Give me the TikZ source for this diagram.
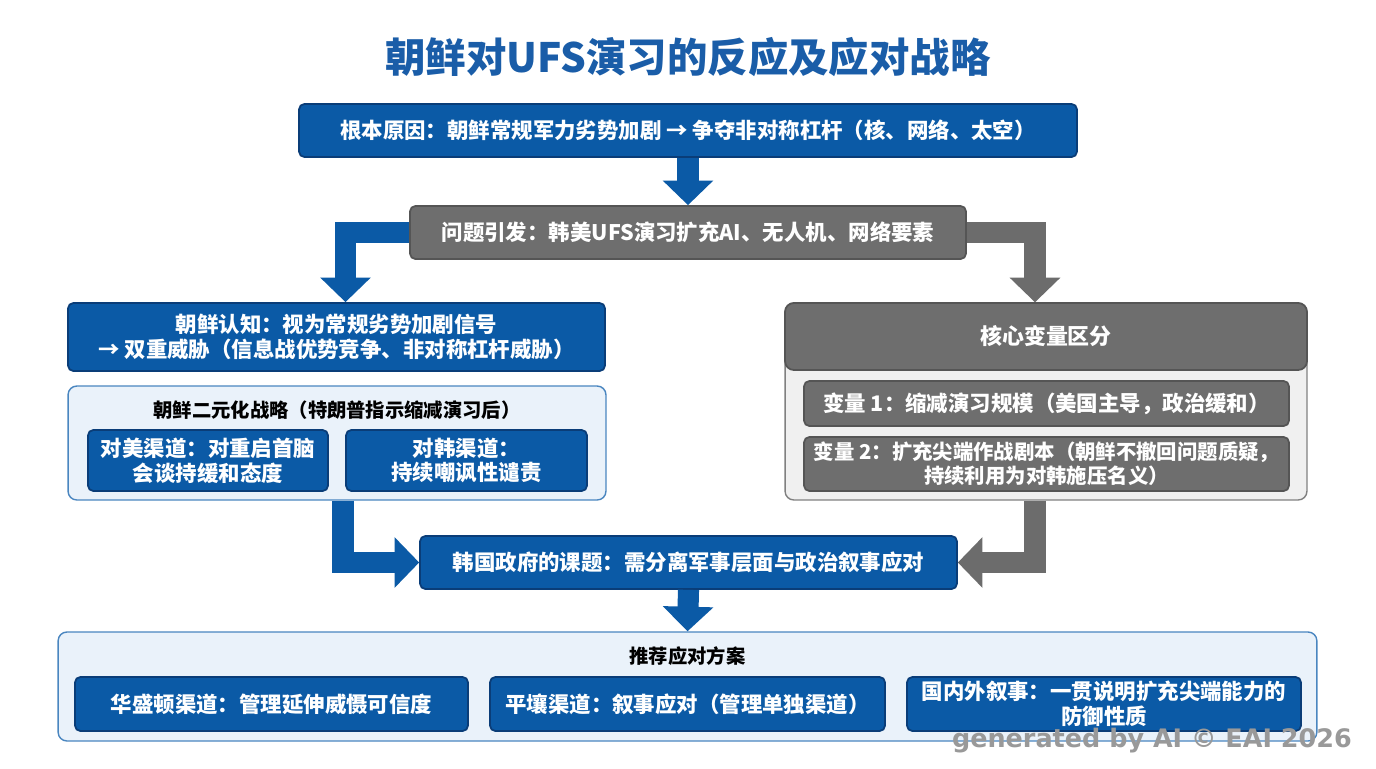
\documentclass[tikz,border=0pt]{standalone}
\usepackage{fontspec}
\setmainfont{Noto Sans CJK SC}
\newfontfamily\wm{DejaVu Sans}
\usetikzlibrary{arrows.meta,calc}
\definecolor{dblue}{HTML}{0B5AA6}
\definecolor{bblue}{HTML}{0A3D78}
\definecolor{lblue}{HTML}{EAF2FA}
\definecolor{pblue}{HTML}{4A86C0}
\definecolor{dgray}{HTML}{6E6E6E}
\definecolor{bgray}{HTML}{555555}
\definecolor{lgray}{HTML}{F0F0F0}
\definecolor{tblue}{HTML}{1A5DA8}
\begin{document}
\begin{tikzpicture}[x=0.02cm,y=-0.02cm,
 bx/.style={draw=bblue,fill=dblue,line width=1pt,rounded corners=3pt,text=white,font=\bfseries\fontsize{12.2}{14}\selectfont,align=center,inner sep=2pt},
 gx/.style={bx,draw=bgray,fill=dgray},
 panel/.style={draw=pblue,fill=lblue,line width=0.8pt,rounded corners=5pt},
 gpanel/.style={draw=gray,fill=lgray,line width=0.8pt,rounded corners=5pt},
 barrow/.style={draw=dblue,line width=12pt,-{Triangle[length=14pt,width=28pt]}},
 garrow/.style={barrow,draw=gray!85!black}]
\useasboundingbox (0,0) rectangle (1376,768);
\fill[white] (0,0) rectangle (1376,768);
\node[text=tblue,font=\bfseries\fontsize{23}{26}\selectfont] (title) at (688,57) {朝鲜对UFS演习的反应及应对战略};
\node[bx,minimum width=15.56cm,minimum height=1.06cm] (b1) at (688,130.5) {根本原因：朝鲜常规军力劣势加剧 → 争夺非对称杠杆（核、网络、太空）};
\node[gx,minimum width=11.12cm,minimum height=1.06cm] (b2) at (688,232.5) {问题引发：韩美UFS演习扩充AI、无人机、网络要素};
\node[bx,minimum width=10.74cm,minimum height=1.36cm] (b3) at (336.5,337) {朝鲜认知：视为常规劣势加剧信号\\→ 双重威胁（信息战优势竞争、非对称杠杆威胁）};
\node[panel,minimum width=10.76cm,minimum height=2.28cm] (lp) at (337,443) {};
\node[font=\bfseries\fontsize{11}{13}\selectfont] (lpt) at (337,410) {朝鲜二元化战略（特朗普指示缩减演习后）};
\node[bx,minimum width=4.8cm,minimum height=1.22cm] (l1) at (208,460.5) {对美渠道：对重启首脑\\会谈持缓和态度};
\node[bx,minimum width=4.82cm,minimum height=1.22cm] (l2) at (466.5,460.5) {对韩渠道：\\持续嘲讽性谴责};
\node[gpanel,minimum width=10.44cm,minimum height=3.94cm] (rp) at (1046,401.5) {};
\node[gx,rounded corners=5pt,minimum width=10.44cm,minimum height=1.34cm,font=\bfseries\fontsize{12.5}{14}\selectfont] (rh) at (1046,336.5) {核心变量区分};
\node[gx,minimum width=9.7cm,minimum height=0.9cm] (r1) at (1046.5,403.5) {变量 1：缩减演习规模（美国主导，政治缓和）};
\node[gx,minimum width=9.7cm,minimum height=1.08cm,font=\bfseries\fontsize{11.6}{13.5}\selectfont] (r2) at (1046.5,464) {变量 2：扩充尖端作战剧本（朝鲜不撤回问题质疑，\\持续利用为对韩施压名义）};
\node[bx,minimum width=10.74cm,minimum height=1.06cm] (mid) at (688.5,562.5) {韩国政府的课题：需分离军事层面与政治叙事应对};
\node[panel,minimum width=25.18cm,minimum height=2.18cm] (bp) at (687.5,686.5) {};
\node[font=\bfseries\fontsize{11}{13}\selectfont] (bpt) at (687.5,656) {推荐应对方案};
\node[bx,minimum width=7.86cm,minimum height=1.08cm] (c1) at (271.5,704) {华盛顿渠道：管理延伸威慑可信度};
\node[bx,minimum width=7.9cm,minimum height=1.08cm] (c2) at (687.5,704) {平壤渠道：叙事应对（管理单独渠道）};
\node[bx,minimum width=7.88cm,minimum height=1.08cm] (c3) at (1104,704) {国内外叙事：一贯说明扩充尖端能力的\\防御性质};
\draw[barrow] (b1.south) -- (b2.north);
\draw[barrow] (b2.west) -| ($(b3.north)+(9,0)$);
\draw[garrow] (b2.east) -| ($(rp.north)+(-11,0)$);
\draw[barrow] ($(lp.south)+(6,0)$) |- (mid.west);
\draw[garrow] ($(rp.south)+(-11,0)$) |- (mid.east);
\draw[barrow] (mid.south) -- (bp.north);
\node[text=gray!80,font=\wm\bfseries\fontsize{14.5}{16}\selectfont,anchor=east] (wm) at (1358,741) {generated by AI © EAI 2026};
\end{tikzpicture}
\end{document}
